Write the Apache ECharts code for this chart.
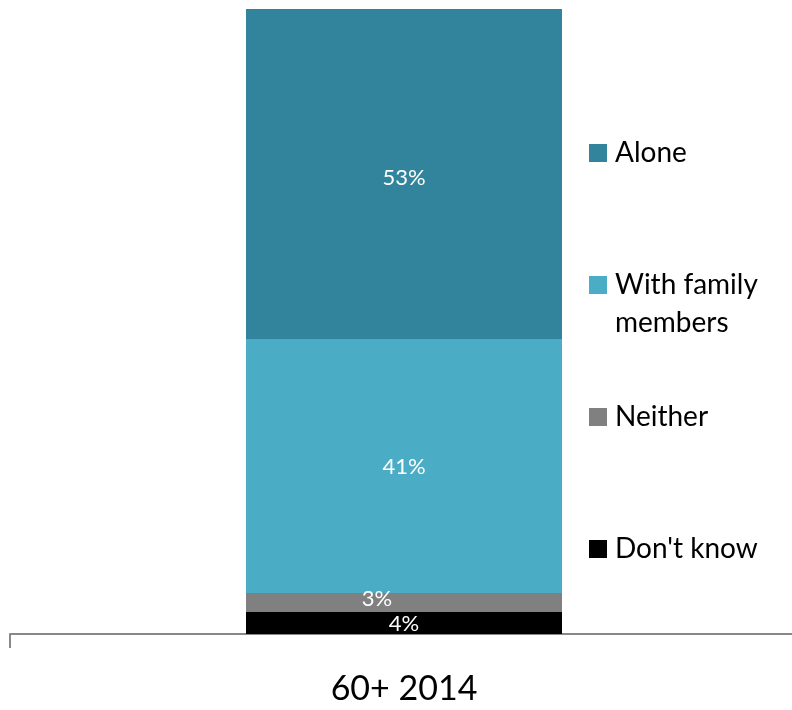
<!DOCTYPE html>
<html>
<head>
<meta charset="utf-8">
<script src="https://cdn.jsdelivr.net/npm/echarts@6/dist/echarts.min.js"></script>
<style>html,body{margin:0;padding:0;background:#fff;overflow:hidden;width:792px;height:710px;}#c{width:798px;height:710px;}</style>
</head>
<body>
<div id="c"></div>
<script>
const categories = ['60+ 2014'];
const seriesNames = ["Don't know", 'Neither', 'With family members', 'Alone'];
const dontKnow = [3.52];
const neither = [3.04];
const withFamily = [40.64];
const alone = [52.8];
const colors = ['#000000', '#808080', '#4BACC6', '#31849B'];

const font = 'Lato';
const chart = echarts.init(document.getElementById('c'));
const valuesList = [dontKnow, neither, withFamily, alone];
const labelOffsets = [[0, 1], [-27, -4], [0, 1], [0, 4]];

const series = seriesNames.map((n, i) => ({
  name: n,
  type: 'bar',
  stack: 'total',
  barWidth: 316,
  data: valuesList[i],
  itemStyle: { color: colors[i] },
  label: {
    show: true,
    position: 'inside',
    color: '#fff',
    fontFamily: font,
    fontSize: 22,
    offset: labelOffsets[i],
    formatter: p => Math.round(p.value) + '%'
  }
}));

function mkLegend(name, top, opts) {
  return Object.assign({
    data: [name],
    left: 589,
    top: top,
    orient: 'vertical',
    padding: 0,
    itemWidth: 18,
    itemHeight: 18,
    icon: 'rect',
    selectedMode: false,
    textStyle: { fontFamily: font, fontSize: 28, color: '#000', lineHeight: 32, padding: [0, 0, 0, 3] }
  }, opts || {});
}

chart.setOption({
  animation: false,
  grid: { left: 10, top: 9, bottom: 76, right: 0, containLabel: false },
  xAxis: {
    type: 'category',
    data: categories,
    axisLine: { lineStyle: { color: '#888888', width: 2 } },
    axisTick: { show: true, length: 14, lineStyle: { color: '#888888', width: 2 } },
    axisLabel: { fontFamily: font, fontSize: 34, color: '#000', margin: 38 }
  },
  yAxis: {
    type: 'value', min: 0, max: 100,
    show: false,
    splitLine: { show: false }
  },
  legend: [
    mkLegend('Alone', 137),
    mkLegend('With family members', 266, {
      itemHeight: 56,
      icon: 'path://M0 0H18V18H0Z M0 56L0.001 56',
      formatter: () => 'With family\nmembers',
      textStyle: { fontFamily: font, fontSize: 28, color: '#000', lineHeight: 38, padding: [0, 0, 0, 3] }
    }),
    mkLegend('Neither', 401),
    mkLegend("Don't know", 533)
  ],
  series: series
});
</script>
</body>
</html>
